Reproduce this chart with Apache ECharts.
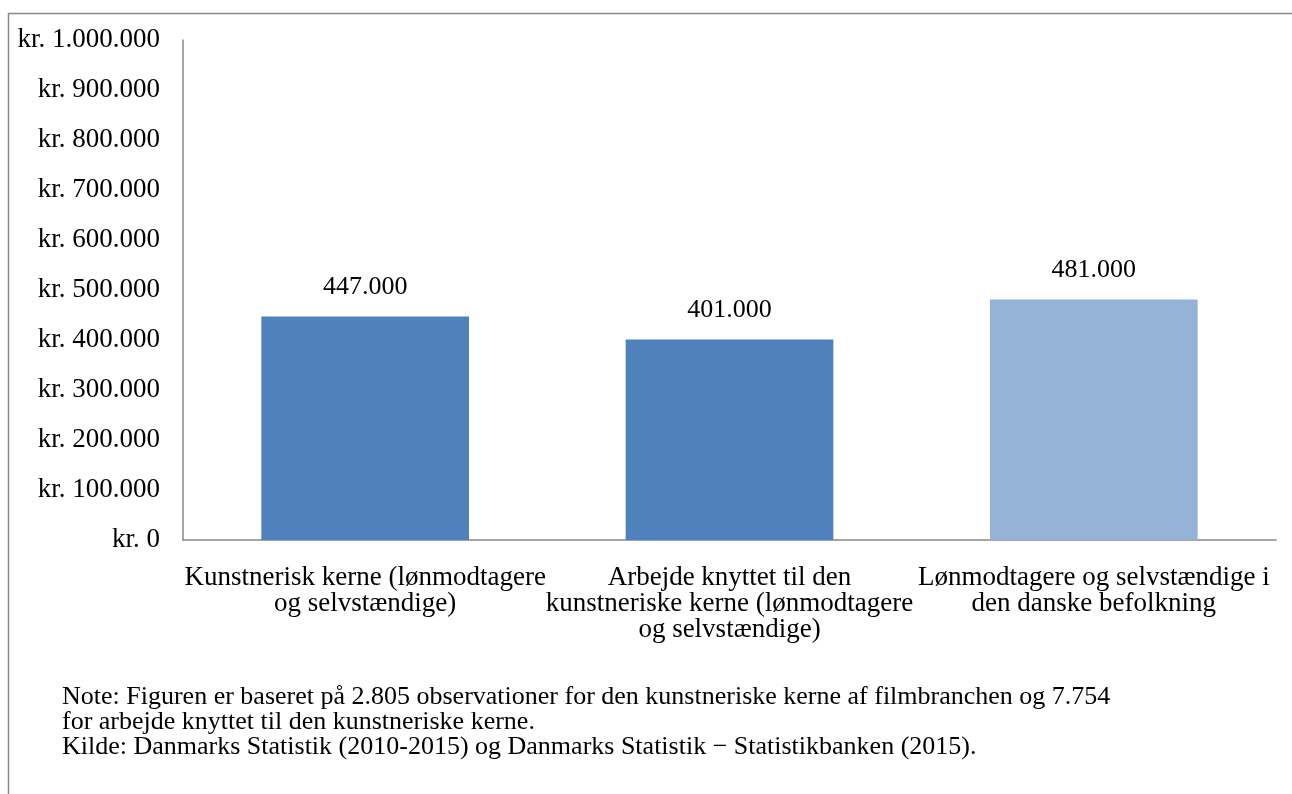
<!DOCTYPE html>
<html>
<head>
<meta charset="utf-8">
<script src="https://cdn.jsdelivr.net/npm/echarts@6/dist/echarts.min.js"></script>
<style>
  html, body { margin: 0; padding: 0; background: #fff; }
  #main { width: 1292px; height: 794px; }
</style>
</head>
<body>
<div id="main"></div>
<script>
// kategorier og værdier
var categories = [
  "Kunstnerisk kerne (lønmodtagere\nog selvstændige)",
  "Arbejde knyttet til den\nkunstneriske kerne (lønmodtagere\nog selvstændige)",
  "Lønmodtagere og selvstændige i\nden danske befolkning"
];
var values = [447000, 401000, 481000];
var barColors = ["#4F81BD", "#4F81BD", "#95B3D7"];
var noteLines = [
  "Note: Figuren er baseret på 2.805 observationer for den kunstneriske kerne af filmbranchen og 7.754",
  "for arbejde knyttet til den kunstneriske kerne.",
  "Kilde: Danmarks Statistik (2010-2015) og Danmarks Statistik − Statistikbanken (2015)."
];

function fmt(v) {
  return String(v).replace(/\B(?=(\d{3})+(?!\d))/g, ".");
}

var font = "'Liberation Serif', 'Times New Roman', serif";
var chart = echarts.init(document.getElementById("main"));

var option = {
  animation: false,
  textStyle: { fontFamily: font },
  grid: { left: 183, top: 40, right: 16, bottom: 254 },
  xAxis: {
    type: "category",
    data: categories,
    axisLine: { lineStyle: { color: "#888", width: 1.5 } },
    axisTick: { show: false },
    axisLabel: {
      interval: 0,
      color: "#000",
      fontFamily: font,
      fontSize: 27,
      lineHeight: 26,
      margin: 25
    }
  },
  yAxis: {
    type: "value",
    min: 0,
    max: 1000000,
    interval: 100000,
    axisLine: { show: true, lineStyle: { color: "#888", width: 1.5 } },
    axisTick: { show: false },
    splitLine: { show: false },
    axisLabel: {
      color: "#000",
      fontFamily: font,
      fontSize: 27,
      margin: 23,
      formatter: function (v) { return "kr. " + fmt(v); }
    }
  },
  series: [{
    type: "bar",
    barWidth: "57%",
    data: values.map(function (v, i) {
      return { value: v, itemStyle: { color: barColors[i] } };
    }),
    label: {
      show: true,
      position: "top",
      distance: 16,
      color: "#000",
      fontFamily: font,
      fontSize: 26,
      formatter: function (p) { return fmt(p.value); }
    }
  }],
  graphic: [
    {
      type: "rect",
      shape: { x: 8.5, y: 13.5, width: 1400, height: 900 },
      style: { fill: null, stroke: "#888", lineWidth: 1.5 },
      silent: true
    }
  ].concat(noteLines.map(function (t, i) {
    return {
      type: "text",
      left: 62,
      top: 684 + i * 25,
      style: { text: t, fill: "#000", font: "26px " + font }
    };
  }))
};

chart.setOption(option);
</script>
</body>
</html>
